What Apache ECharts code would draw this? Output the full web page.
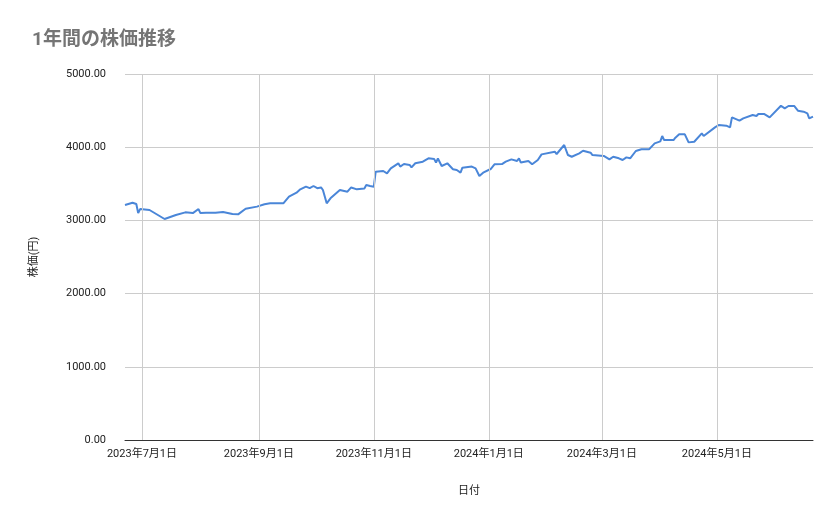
<!DOCTYPE html>
<html>
<head>
<meta charset="utf-8">
<script src="https://cdn.jsdelivr.net/npm/echarts@6/dist/echarts.min.js"></script>
<style>html,body{margin:0;padding:0;background:#fff}#chartmain{width:839px;height:519px}</style>
</head>
<body>
<div id="chartmain"></div>
<script>
var dates = ['2023-06-22','2023-06-26','2023-06-28','2023-06-29','2023-06-30','2023-07-05','2023-07-13','2023-07-14','2023-07-19','2023-07-24','2023-07-28','2023-07-31','2023-08-01','2023-08-04','2023-08-09','2023-08-13','2023-08-18','2023-08-21','2023-08-25','2023-08-31','2023-09-04','2023-09-07','2023-09-08','2023-09-09','2023-09-14','2023-09-17','2023-09-21','2023-09-23','2023-09-26','2023-09-28','2023-09-30','2023-10-02','2023-10-04','2023-10-05','2023-10-07','2023-10-09','2023-10-14','2023-10-18','2023-10-20','2023-10-23','2023-10-27','2023-10-28','2023-10-30','2023-11-01','2023-11-02','2023-11-06','2023-11-08','2023-11-10','2023-11-14','2023-11-15','2023-11-17','2023-11-20','2023-11-21','2023-11-23','2023-11-27','2023-11-30','2023-12-03','2023-12-04','2023-12-05','2023-12-07','2023-12-10','2023-12-13','2023-12-15','2023-12-17','2023-12-18','2023-12-23','2023-12-25','2023-12-27','2023-12-29','2024-01-02','2024-01-04','2024-01-08','2024-01-10','2024-01-13','2024-01-16','2024-01-17','2024-01-18','2024-01-22','2024-01-24','2024-01-27','2024-01-29','2024-02-05','2024-02-06','2024-02-10','2024-02-12','2024-02-14','2024-02-18','2024-02-20','2024-02-24','2024-02-25','2024-03-02','2024-03-05','2024-03-07','2024-03-10','2024-03-12','2024-03-14','2024-03-16','2024-03-19','2024-03-22','2024-03-26','2024-03-29','2024-04-01','2024-04-02','2024-04-03','2024-04-04','2024-04-08','2024-04-09','2024-04-11','2024-04-14','2024-04-16','2024-04-19','2024-04-23','2024-04-24','2024-04-30','2024-05-02','2024-05-06','2024-05-08','2024-05-09','2024-05-13','2024-05-15','2024-05-20','2024-05-22','2024-05-23','2024-05-26','2024-05-29','2024-06-04','2024-06-06','2024-06-08','2024-06-11','2024-06-13','2024-06-16','2024-06-18','2024-06-19','2024-06-21'];
var prices = [3210,3242,3224,3100,3155,3142,3019,3019,3074,3110,3100,3155,3100,3105,3105,3115,3087,3083,3160,3188,3220,3233,3247,3233,3233,3324,3379,3424,3461,3440,3470,3440,3450,3415,3233,3301,3415,3392,3450,3424,3437,3483,3470,3461,3665,3675,3643,3711,3780,3735,3770,3757,3725,3780,3802,3848,3840,3790,3845,3743,3780,3698,3688,3652,3720,3735,3711,3606,3652,3702,3766,3770,3802,3834,3812,3848,3790,3812,3766,3825,3902,3939,3907,4030,3893,3870,3916,3952,3925,3893,3880,3834,3870,3848,3825,3861,3848,3948,3971,3971,4053,4080,4153,4098,4107,4098,4130,4176,4176,4066,4075,4189,4153,4271,4303,4294,4271,4408,4363,4394,4440,4426,4454,4454,4408,4567,4531,4563,4563,4499,4485,4463,4394,4417];
var tickDates = ['2023-07-01','2023-09-01','2023-11-01','2024-01-01','2024-03-01','2024-05-01'];

function ts(d) { return +new Date(d + 'T00:00:00'); }
var data = dates.map(function (d, i) { return [ts(d), prices[i]]; });
var ticks = tickDates.map(ts);
var font = 'Roboto, "Noto Sans CJK JP", sans-serif';

var chart = echarts.init(document.getElementById('chartmain'), null, { renderer: 'canvas' });
chart.setOption({
    animation: false,
    textStyle: { fontFamily: font },
    title: {
        text: '1年間の株価推移', left: 27, top: 26,
        textStyle: { color: '#757575', fontSize: 19, fontWeight: 'bold', fontFamily: font }
    },
    grid: { left: 125, right: 26, top: 74, bottom: 79 },
    xAxis: {
        type: 'value',
        min: ts(dates[0]),
        max: ts(dates[dates.length - 1]),
        name: '日付', nameLocation: 'middle', nameGap: 46,
        nameTextStyle: { color: '#222', fontSize: 11 },
        axisLine: { lineStyle: { color: '#333' } },
        axisTick: { show: false },
        splitLine: { show: false },
        axisLabel: {
            customValues: ticks,
            color: '#222', fontSize: 11, margin: 9,
            formatter: function (v) {
                var d = new Date(v);
                return d.getFullYear() + '年' + (d.getMonth() + 1) + '月' + d.getDate() + '日';
            }
        }
    },
    yAxis: {
        type: 'value', min: 0, max: 5000, interval: 1000,
        name: '株価(円)', nameLocation: 'middle', nameGap: 85, nameRotate: 90,
        nameTextStyle: { color: '#222', fontSize: 11 },
        axisLine: { show: false }, axisTick: { show: false },
        axisLabel: { color: '#222', fontSize: 11, margin: 19, formatter: function (v) { return v.toFixed(2); } },
        splitLine: { lineStyle: { color: '#cccccc' } }
    },
    series: [{
        type: 'line', data: data, showSymbol: false,
        lineStyle: { color: '#4a86d8', width: 2 },
        itemStyle: { color: '#4a86d8' },
        markLine: {
            silent: true, symbol: 'none', label: { show: false },
            lineStyle: { color: '#cccccc', type: 'solid', width: 1 },
            data: ticks.map(function (t) { return { xAxis: t }; })
        },
        z: 3
    }]
});
</script>
</body>
</html>
